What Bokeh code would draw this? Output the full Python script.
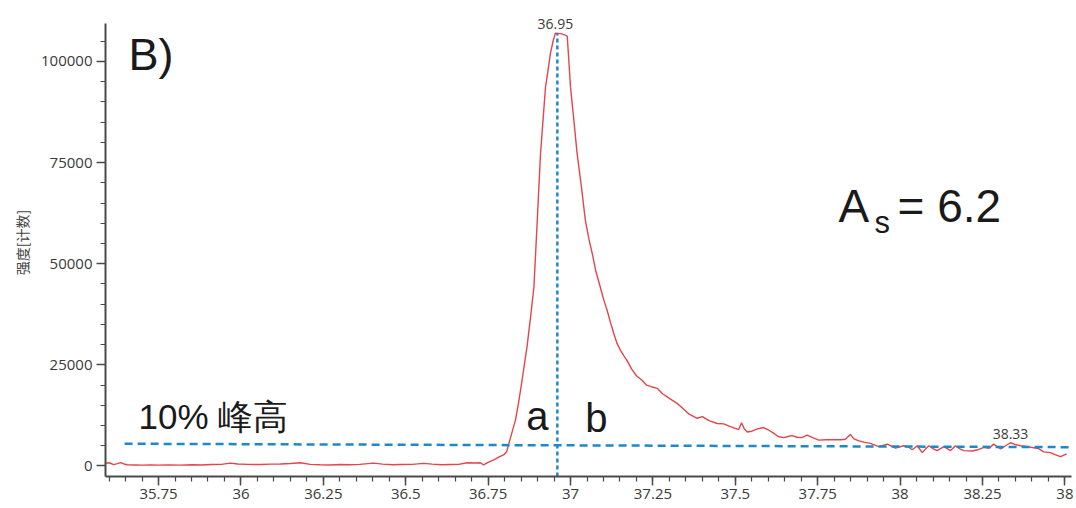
import numpy as np
from bokeh.plotting import figure
from bokeh.models import FixedTicker, Range1d, Label, ColumnDataSource
from bokeh.embed import file_html
from bokeh.resources import INLINE
from bokeh.core.properties import value

# ---------------- data ----------------
rt = [35.589, 35.600, 35.614, 35.625, 35.635, 35.645, 35.655, 35.680, 35.700, 35.726,
      35.750, 35.780, 35.817, 35.850, 35.880, 35.910, 35.940, 35.968, 35.990, 36.020,
      36.060, 36.090, 36.120, 36.150, 36.181, 36.210, 36.240, 36.272, 36.300, 36.330,
      36.360, 36.402, 36.430, 36.460, 36.484, 36.520, 36.554, 36.580, 36.610, 36.636,
      36.660, 36.687, 36.710, 36.727, 36.736, 36.750, 36.767, 36.785, 36.798, 36.806,
      36.813, 36.823, 36.833, 36.843, 36.853, 36.868, 36.879, 36.889, 36.899, 36.909,
      36.917, 36.924, 36.932, 36.939, 36.947, 36.954, 36.970, 36.985, 36.990, 36.995,
      37.000, 37.010, 37.020, 37.033, 37.045, 37.056, 37.066, 37.076, 37.091, 37.101,
      37.111, 37.121, 37.131, 37.141, 37.152, 37.162, 37.172, 37.185, 37.200, 37.217,
      37.230, 37.245, 37.263, 37.280, 37.300, 37.323, 37.340, 37.360, 37.384, 37.400,
      37.420, 37.445, 37.465, 37.483, 37.500, 37.510, 37.519, 37.527, 37.536, 37.550,
      37.565, 37.586, 37.600, 37.615, 37.630, 37.647, 37.660, 37.672, 37.687, 37.702,
      37.718, 37.735, 37.753, 37.775, 37.800, 37.820, 37.834, 37.849, 37.860, 37.875,
      37.890, 37.910, 37.935, 37.961, 37.986, 38.011, 38.025, 38.037, 38.052, 38.067,
      38.087, 38.100, 38.112, 38.133, 38.153, 38.168, 38.180, 38.193, 38.219, 38.235,
      38.254, 38.270, 38.284, 38.305, 38.320, 38.335, 38.350, 38.365, 38.385, 38.406,
      38.420, 38.436, 38.456, 38.470, 38.487, 38.505]

intensity = [700, 800, 350, 600, 850, 500, 300, 250, 200, 250,
             200, 250, 200, 300, 250, 350, 400, 700, 500, 400,
             350, 450, 500, 600, 800, 400, 300, 250, 350, 300,
             400, 700, 450, 300, 350, 400, 650, 450, 300, 350,
             400, 800, 750, 800, 250, 900, 1500, 2300, 2800, 3500,
             5600, 8500, 11400, 16000, 21200, 29500, 37000, 44300, 60700, 77300,
             86000, 93600, 98000, 102000, 105000, 107000, 106900, 106500, 106200, 100000,
             93600, 85500, 77200, 69000, 60700, 56000, 52500, 48400, 44000, 41000,
             38500, 35500, 32800, 30300, 28500, 27200, 26000, 24000, 22300, 21200,
             20000, 19600, 19200, 17800, 16700, 15500, 14300, 12800, 11800, 12200,
             11200, 10500, 10400, 9800, 9300, 9000, 10700, 9200, 8400, 8600,
             9100, 9500, 8900, 8200, 7300, 7000, 7300, 7500, 7100, 7000,
             7650, 7000, 6400, 6500, 6500, 6500, 6600, 7800, 6700, 6200,
             5900, 5600, 4800, 5400, 4400, 5000, 4700, 4000, 5000, 3300,
             5000, 4300, 3800, 4800, 3800, 5000, 4300, 3800, 3700, 4000,
             4600, 4400, 5400, 4200, 5000, 5750, 5300, 5000, 4800, 4500,
             4300, 3500, 3300, 2800, 2300, 3000]

peak_rt = [36.954, 38.335]
peak_int = [107000, 5750]
peak_labels = ["36.95", "38.33"]

apex_rt = [36.96]
apex_top = [107000]

h10_x = [35.647, 38.52]
h10_y = [5500, 4650]

x_ticks = [35.75, 36.0, 36.25, 36.5, 36.75, 37.0, 37.25, 37.5, 37.75, 38.0, 38.25, 38.5]
x_tick_labels = ["35.75", "36", "36.25", "36.5", "36.75", "37", "37.25", "37.5",
                 "37.75", "38", "38.25", "38"]
y_ticks = [0, 25000, 50000, 75000, 100000]
y_tick_labels = ["0", "25000", "50000", "75000", "100000"]

x_lo, x_hi = 35.589, 38.52
y_lo, y_hi = -2600, 113100
y_axis_top = 109400

# ---------------- figure ----------------
p = figure(width=1076, height=508, output_backend="svg", toolbar_location=None,
           x_range=Range1d(x_lo, x_hi), y_range=Range1d(y_lo, y_hi),
           min_border_left=105, min_border_right=5, min_border_top=8,
           min_border_bottom=32)
p.background_fill_color = "white"
p.border_fill_color = "white"
p.outline_line_color = None
p.grid.visible = False

axis_col = "#4a4a4a"
lab_col = "#3a3a3a"

x_minor = [round(v, 2) for v in np.arange(35.60, 38.51, 0.05)]
p.xaxis.ticker = FixedTicker(ticks=x_ticks, minor_ticks=x_minor)
p.xaxis.major_label_overrides = {t: l for t, l in zip(x_ticks, x_tick_labels)}
y_minor = list(range(0, 110000, 5000))
p.yaxis.ticker = FixedTicker(ticks=y_ticks, minor_ticks=y_minor)
p.yaxis.major_label_overrides = {t: l for t, l in zip(y_ticks, y_tick_labels)}
p.yaxis.bounds = (y_lo, y_axis_top)

for ax in (p.xaxis[0], p.yaxis[0]):
    ax.axis_line_color = axis_col
    ax.axis_line_width = 2
    ax.major_tick_line_color = axis_col
    ax.minor_tick_line_color = axis_col
    ax.major_tick_line_width = 1.5
    ax.minor_tick_line_width = 1.2
    ax.major_tick_out = 9
    ax.major_tick_in = 0
    ax.minor_tick_out = 5
    ax.minor_tick_in = 0
    ax.major_label_text_font = "Open Sans"
    ax.major_label_text_font_size = "15px"
    ax.major_label_text_color = lab_col

p.xaxis.major_label_standoff = 3
p.yaxis.major_label_standoff = 4
p.yaxis.axis_label = "强度[计数]"
p.yaxis.axis_label_text_font = "Noto Sans CJK SC"
p.yaxis.axis_label_text_font_size = "14px"
p.yaxis.axis_label_text_font_style = "normal"
p.yaxis.axis_label_text_color = "#444444"
p.yaxis.axis_label_standoff = 6

# chromatogram trace
src = ColumnDataSource(dict(rt=rt, intensity=intensity))
p.line("rt", "intensity", source=src, line_color="#e2454c", line_width=1.4)

# 10 % peak height line and apex line
blue = "#1f88c8"
p.line(h10_x, h10_y, line_color=blue, line_width=2.5, line_dash="8 5")
p.segment(x0=apex_rt, y0=[y_lo], x1=apex_rt, y1=apex_top,
          line_color=blue, line_width=2.5, line_dash="4 3")

# peak labels
p.text(x=peak_rt, y=peak_int, text=peak_labels, text_align="center",
       text_baseline="bottom", y_offset=-4, text_font=value("Open Sans"),
       text_font_size="14px", text_color=lab_col)

# annotations
def lab(x, y, t, size, **kw):
    p.add_layout(Label(x=x, y=y, text=t, text_font="Liberation Sans",
                       text_font_size=size, text_color="#1a1a1a",
                       text_baseline="middle", **kw))

lab(35.659, 101740, "B)", "45px")
lab(35.689, 12300, "10% 峰高", "35px")
lab(36.866, 12240, "a", "40px")
lab(37.045, 11744, "b", "40px")
lab(37.813, 64160, "A", "46px")
lab(37.922, 60200, "s", "31px")
lab(37.992, 64160, "= 6.2", "46px")

open("out.html", "w").write(file_html(p, INLINE))
